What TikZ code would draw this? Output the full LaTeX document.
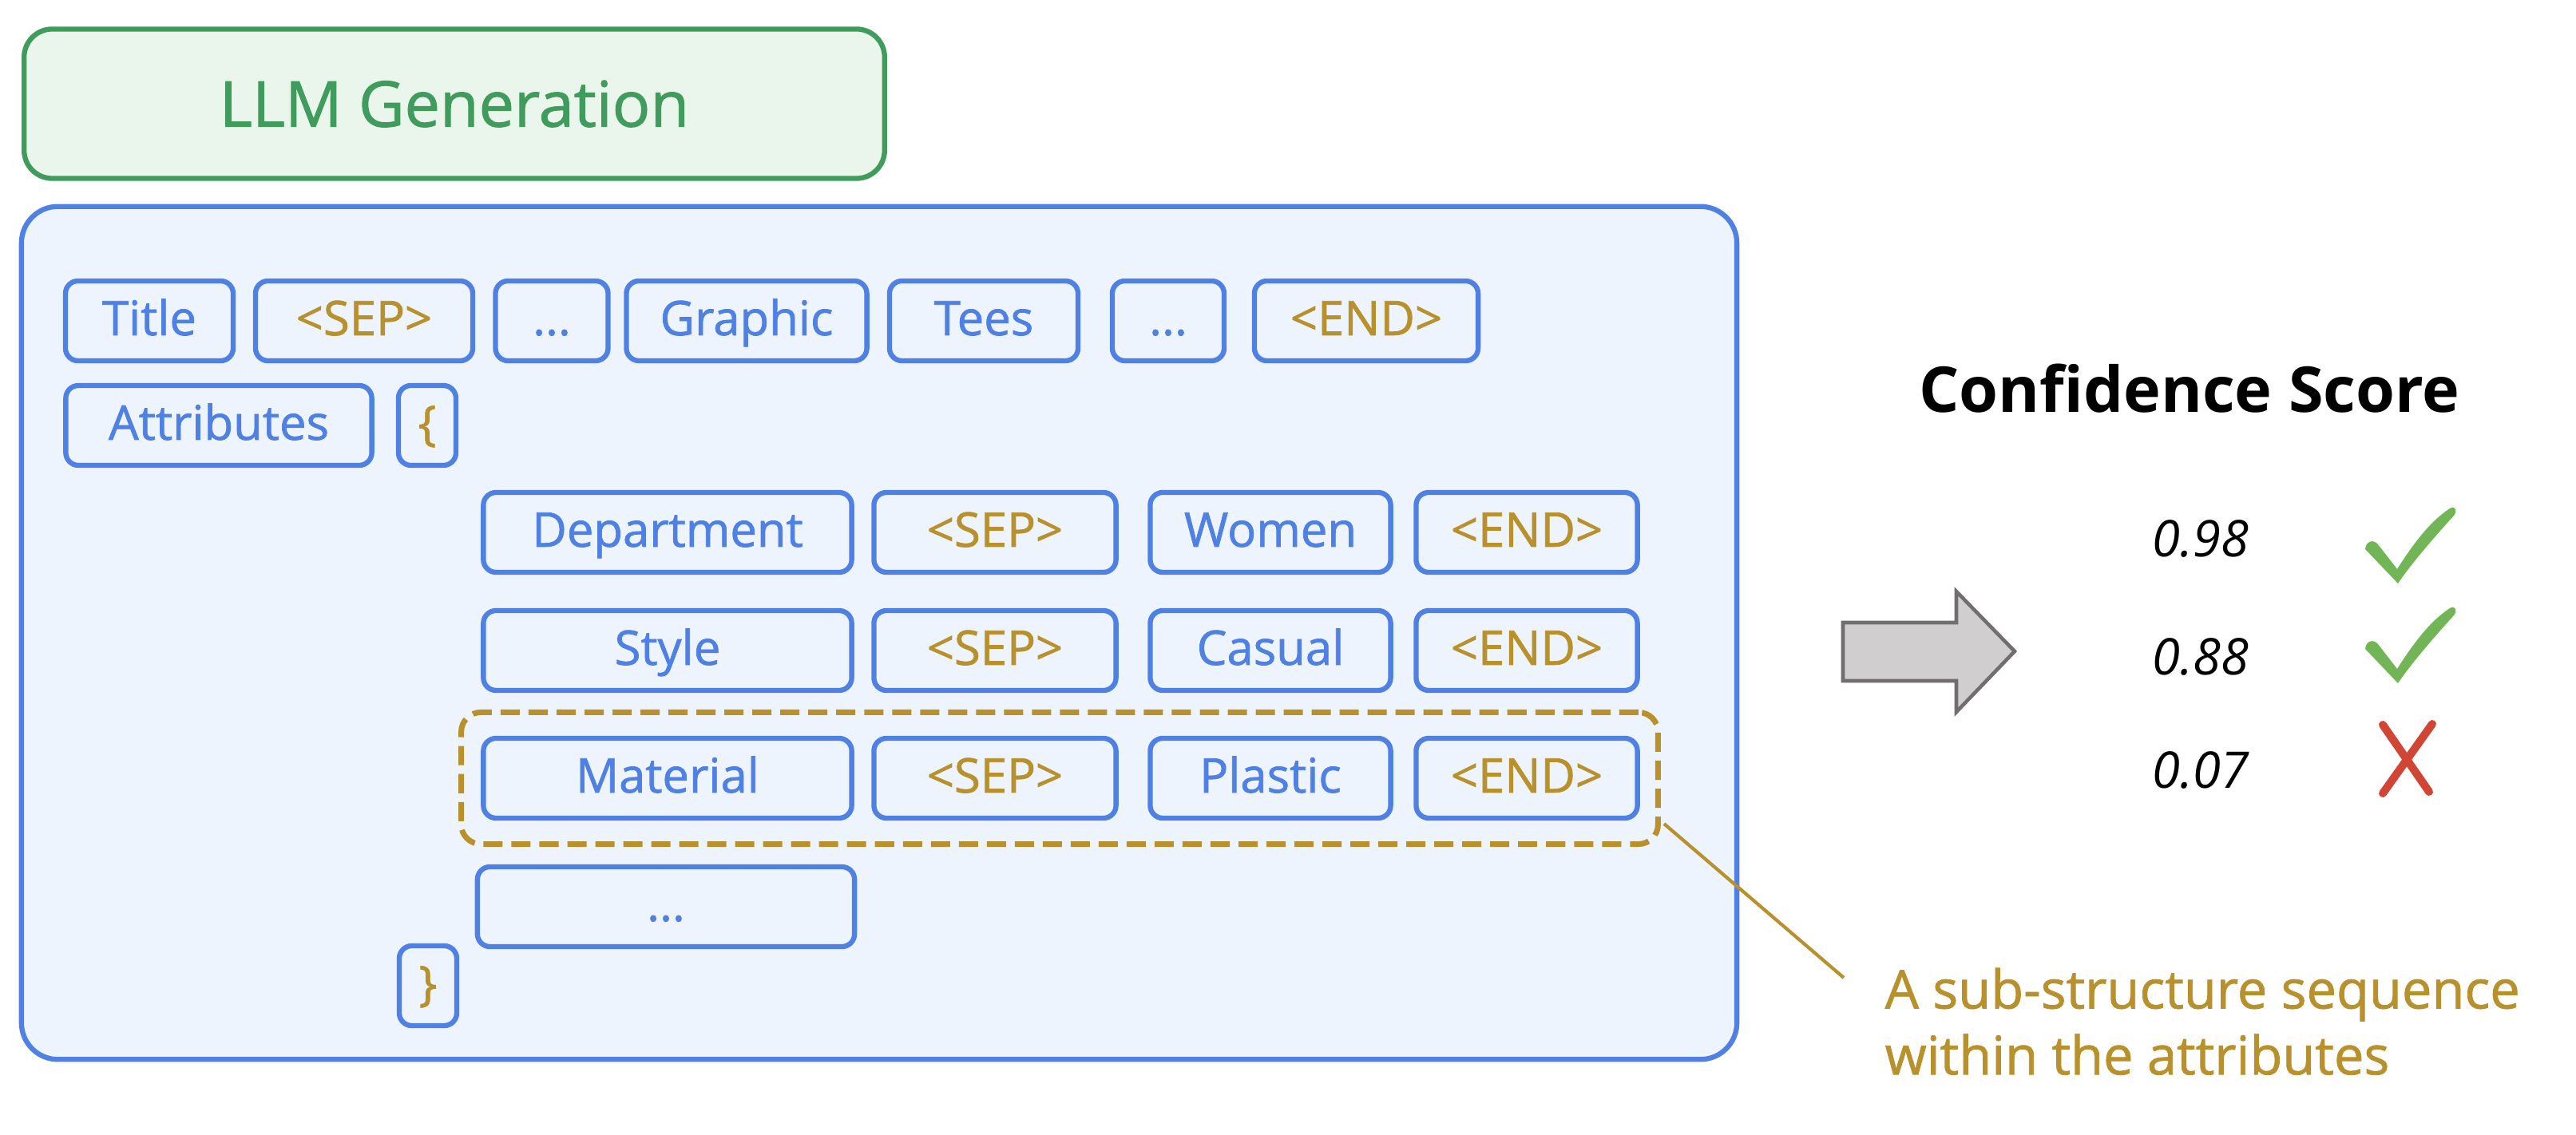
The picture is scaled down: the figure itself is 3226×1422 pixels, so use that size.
\documentclass[tikz,border=0pt]{standalone}
\usepackage{fontspec}
\setmainfont{Open Sans}
\newfontfamily\medfont{Open Sans}[FakeBold=1.2]
\usetikzlibrary{calc}

\definecolor{tokblue}{HTML}{4F80E3}
\definecolor{tokgold}{HTML}{B8912D}
\definecolor{gengreen}{HTML}{409C5C}
\definecolor{genfill}{HTML}{EAF5EC}
\definecolor{panelfill}{HTML}{EEF4FD}
\definecolor{arrowgray}{HTML}{D0CECF}
\definecolor{arrowedge}{HTML}{706E6E}
\definecolor{okgreen}{HTML}{72B556}
\definecolor{badred}{HTML}{D04534}

\tikzset{
  tok/.style={draw=tokblue, fill=panelfill, line width=1.8pt, rounded corners=4.5pt,
    minimum height=1.0cm, inner sep=0pt, text height=13pt, text depth=2.8pt,
    text=tokblue, font=\medfont\fontsize{17}{20}\selectfont},
  goldtok/.style={tok, text=tokgold},
  tick/.style={fill=okgreen, draw=none},
}

\begin{document}
\begin{tikzpicture}[x=0.01cm, y=-0.01cm]

    \useasboundingbox (0,0) rectangle (3226,1422);

    % header and panel
    \node[draw=gengreen, fill=genfill, line width=1.8pt, rounded corners=10pt,
      minimum width=10.77cm, minimum height=1.87cm, text=gengreen,
      font=\medfont\fontsize{22.5}{27}\selectfont] (gen) at (569,130) {LLM Generation};
    \node[draw=tokblue, fill=panelfill, line width=1.8pt, rounded corners=13pt,
      minimum width=21.47cm, minimum height=10.68cm] (panel) at (1101,793) {};

    % title row
    \node[tok, minimum width=2.10cm] (title) at (187,402) {Title};
    \node[goldtok, minimum width=2.72cm] (sep0) at (456,402) {<SEP>};
    \node[tok, minimum width=1.41cm] (dotsa) at (691,402) {...};
    \node[tok, minimum width=3.01cm] (graphic) at (935,402) {Graphic};
    \node[tok, minimum width=2.36cm] (tees) at (1232,402) {Tees};
    \node[tok, minimum width=1.40cm] (dotsb) at (1463,402) {...};
    \node[goldtok, minimum width=2.80cm] (end0) at (1711,402) {<END>};

    \node[tok, minimum width=3.83cm] (attr) at (274,533) {Attributes};
    \node[goldtok, minimum width=0.72cm] (lbrace) at (535,533) {\{};

    % attribute rows
    \node[tok, minimum width=4.61cm] (dept) at (836,667) {Department};
    \node[goldtok, minimum width=3.03cm] (sep1) at (1246,667) {<SEP>};
    \node[tok, minimum width=3.01cm] (women) at (1591,667) {Women};
    \node[goldtok, minimum width=2.77cm] (end1) at (1912,667) {<END>};

    \node[tok, minimum width=4.61cm] (style) at (836,815) {Style};
    \node[goldtok, minimum width=3.03cm] (sep2) at (1246,815) {<SEP>};
    \node[tok, minimum width=3.01cm] (casual) at (1591,815) {Casual};
    \node[goldtok, minimum width=2.77cm] (end2) at (1912,815) {<END>};

    \node[tok, minimum width=4.61cm] (material) at (836,975) {Material};
    \node[goldtok, minimum width=3.03cm] (sep3) at (1246,975) {<SEP>};
    \node[tok, minimum width=3.01cm] (plastic) at (1591,975) {Plastic};
    \node[goldtok, minimum width=2.77cm] (end3) at (1912,975) {<END>};

    \node[tok, minimum width=4.72cm] (dotsc) at (834,1136) {...};
    \node[goldtok, minimum width=0.72cm] (rbrace) at (536,1235) {\}};

    % highlighted sub-structure
    \node[draw=tokgold, line width=2pt, dash pattern=on 0.24cm off 0.11cm,
      rounded corners=7pt, minimum width=14.98cm, minimum height=1.65cm] (sub) at (1327,975) {};

    \coordinate (tip) at (2309,1225);
    \draw[tokgold, line width=1.2pt] ($(sub.south east)+(4,-29)$) -- (tip);
    \node[anchor=north west, align=left, inner sep=0pt, text=tokgold,
      font=\medfont\fontsize{19}{23.5}\selectfont] (note) at (2360,1212)
      {A sub-structure sequence\\within the attributes};

    % block arrow
    \draw[fill=arrowgray, draw=arrowedge, line width=1.3pt]
      (2308,780) -- (2450,780) -- (2450,741) -- (2523,816) -- (2450,892) -- (2450,853) -- (2308,853) -- cycle;

    % scores
    \node[anchor=base, font=\bfseries\fontsize{22.5}{27}\selectfont] (conf) at (2742,517) {Confidence Score};
    \node[anchor=base, font=\itshape\fontsize{18}{22}\selectfont] (s1) at (2756,698) {0.98};
    \node[anchor=base, font=\itshape\fontsize{18}{22}\selectfont] (s2) at (2756,846) {0.88};
    \node[anchor=base, font=\itshape\fontsize{18}{22}\selectfont] (s3) at (2756,988) {0.07};

    \foreach \dy in {0,125} {
      \fill[tick, shift={(0,\dy)}] (2962,688) .. controls (2963,678) and (2972,675) .. (2978,682)
        -- (3002,713) .. controls (3025,677) and (3045,652) .. (3068,637)
        .. controls (3075,633) and (3078,640) .. (3073,646)
        .. controls (3045,677) and (3020,706) .. (3003,731) -- cycle;
    }
    \draw[badred, line width=0.1cm, line cap=round] (2984,908) -- (3042,992);
    \draw[badred, line width=0.1cm, line cap=round] (3046,907) -- (2984,994);

\end{tikzpicture}
\end{document}
